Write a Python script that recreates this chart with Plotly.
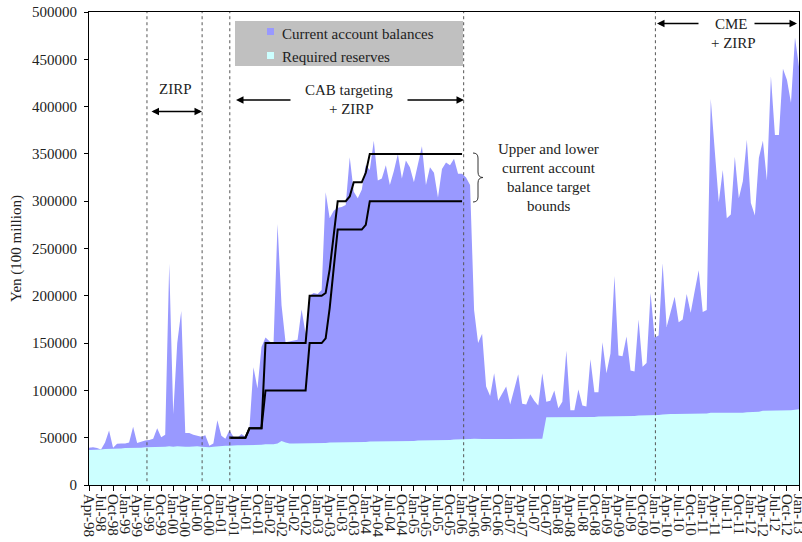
import plotly.graph_objects as go
import pandas as pd

# ---------------- data ----------------
months = pd.date_range("1998-04-01", "2013-01-01", freq="MS").strftime("%b-%y").tolist()

# Current account balances (100 million yen), monthly Apr-98 .. Jan-13
cab = [
    39500, 40000, 39000, 37500, 45000, 57500, 39500, 43500, 43800,
    44000, 45000, 61500, 44500, 46000, 47000, 47500, 49000, 60000, 50500, 53000, 234000,
    75000, 150000, 184000, 55000, 55000, 53000, 52000, 51000, 52500, 41500, 44000, 68500,
    52000, 49000, 58000, 51000, 50000, 54000, 51000, 60000, 124600, 102000, 146000, 156000,
    152000, 149000, 276000, 190000, 151000, 152000, 152500, 153500, 185500, 160000, 200000, 203000,
    202000, 206000, 309500, 282000, 290000, 293000, 294000, 296000, 346500, 310000, 303000, 312000,
    338000, 333000, 364000, 322000, 324000, 338000, 317000, 332000, 350000, 324000, 343000, 336000,
    320000, 338000, 358000, 317000, 336000, 330000, 304000, 334000, 341000, 338000, 345000, 329000,
    329000, 325000, 317000, 185000, 150000, 160000, 104000, 94000, 118000, 89000, 96000, 104000,
    85000, 102000, 117000, 86000, 85000, 96000, 89000, 84000, 118000, 88000, 89000, 100000,
    81000, 88000, 142000, 79000, 79000, 101000, 84000, 83000, 133000, 98000, 98000, 151000,
    118000, 139000, 221000, 137000, 136000, 157000, 121000, 120000, 175000, 125000, 129000, 203000,
    156000, 158000, 234500, 167000, 184000, 199000, 172000, 175000, 202000, 182000, 205000, 227000,
    183000, 185000, 408000, 352000, 299000, 333000, 282000, 286000, 347000, 303000, 321000, 365000,
    298000, 285000, 346000, 364000, 322000, 432000, 370000, 370000, 440000, 428000, 404000, 473000,
    442000,
]

# Required reserves (100 million yen)
reserves = [
    37000, 37000, 37500, 37500, 38000, 38000, 38000, 38500, 38500,
    39000, 39000, 39500, 39500, 39500, 40000, 40000, 40000, 40000, 40000, 40500, 41000,
    40500, 41000, 40500, 40500, 40500, 41000, 41000, 40500, 40000, 40000, 40500, 41000,
    41000, 41500, 41500, 42000, 42000, 42000, 42000, 42500, 42500, 42500, 42500, 43000,
    43000, 43000, 44000, 46500, 45000, 44000, 44000, 44000, 44000, 44000, 44000, 44500,
    44500, 44500, 44500, 45000, 45000, 45000, 45000, 45000, 45000, 45500, 45500, 45500,
    45500, 46000, 46000, 46000, 46000, 46000, 46000, 46500, 46500, 46500, 46500, 46500,
    46500, 47000, 47000, 47000, 47000, 47000, 47500, 47500, 47500, 47500, 48000, 48000,
    48000, 48500, 48500, 49000, 48500, 48500, 48500, 48500, 48500, 48500, 48500, 48500,
    48500, 48800, 49000, 49000, 49000, 49000, 49000, 49000, 49000, 71500, 71500, 71500,
    71500, 71500, 71500, 71500, 71500, 71500, 72000, 72000, 72000, 72000, 72500, 72500,
    72500, 73000, 73000, 73000, 73000, 73000, 73000, 73000, 73500, 73500, 73500, 73500,
    74000, 74000, 74500, 75000, 75000, 75000, 75000, 75000, 75000, 75000, 75000, 75500,
    75000, 75500, 76500, 76500, 76500, 76500, 76000, 76000, 76500, 76500, 76500, 77000,
    77000, 77000, 77500, 78500, 78500, 78500, 78500, 78500, 78500, 79000, 79000, 79500,
    80000,
]

# Current account balance target bounds, Mar-01 .. Jan-06
bound_months = months[35:94]
upper_bound = [
    50000, 50000, 50000, 50000, 50000,
    60000, 60000, 60000, 60000,
    150000, 150000, 150000, 150000, 150000, 150000, 150000, 150000, 150000, 150000, 150000,
    200000, 200000, 200000, 200000,
    203000, 228000, 264000,
    300000, 300000, 300000,
    305000,
    320000, 320000, 320000,
    330000,
    350000, 350000, 350000, 350000, 350000, 350000, 350000, 350000, 350000, 350000, 350000, 350000,
    350000, 350000, 350000, 350000, 350000, 350000, 350000, 350000, 350000, 350000, 350000, 350000,
]
lower_bound = [
    50000, 50000, 50000, 50000, 50000,
    60000, 60000, 60000, 60000,
    100000, 100000, 100000, 100000, 100000, 100000, 100000, 100000, 100000, 100000, 100000,
    150000, 150000, 150000, 150000,
    155000, 187000, 229000,
    270000, 270000, 270000, 270000, 270000, 270000, 270000,
    275000,
    300000, 300000, 300000, 300000, 300000, 300000, 300000, 300000, 300000, 300000, 300000, 300000,
    300000, 300000, 300000, 300000, 300000, 300000, 300000, 300000, 300000, 300000, 300000, 300000,
]

# policy regime boundaries (position on the month axis)
event_positions = [14.45, 28.2, 35.1, 93.4, 141.2]

y_ticks = [0, 50000, 100000, 150000, 200000, 250000, 300000, 350000, 400000, 450000, 500000]

# ---------------- layout helpers ----------------
W, H = 802, 542
L, R, T, B = 89, 3, 12, 57
PW = W - L - R
PH = H - T - B
FONT = "Liberation Serif"
TXT = "#222222"


def px(x):
    return (x - L) / PW


def py(y):
    return (H - B - y) / PH


fig = go.Figure()
fig.add_trace(go.Scatter(x=months, y=cab, mode="lines", line=dict(width=0, color="#9999ff"),
                         fill="tozeroy", fillcolor="#9999ff", name="Current account balances",
                         showlegend=False, hoverinfo="skip"))
fig.add_trace(go.Scatter(x=months, y=reserves, mode="lines", line=dict(width=0, color="#ccffff"),
                         fill="tozeroy", fillcolor="#ccffff", name="Required reserves",
                         showlegend=False, hoverinfo="skip"))
fig.add_trace(go.Scatter(x=bound_months, y=upper_bound, mode="lines",
                         line=dict(color="black", width=2), showlegend=False, hoverinfo="skip"))
fig.add_trace(go.Scatter(x=bound_months, y=lower_bound, mode="lines",
                         line=dict(color="black", width=2), showlegend=False, hoverinfo="skip"))

shapes = []
for e in event_positions:
    shapes.append(dict(type="line", xref="x", yref="y", x0=e, x1=e, y0=4000, y1=500000,
                       line=dict(color="#555555", width=1, dash="dot")))

# legend box
shapes.append(dict(type="rect", xref="paper", yref="paper", x0=px(235), x1=px(463),
                   y0=py(66), y1=py(21), fillcolor="#c0c0c0", line=dict(width=0), layer="above"))
shapes.append(dict(type="rect", xref="paper", yref="paper", x0=px(267), x1=px(274),
                   y0=py(35), y1=py(28), fillcolor="#9999ff", line=dict(width=0)))
shapes.append(dict(type="rect", xref="paper", yref="paper", x0=px(267), x1=px(274),
                   y0=py(59), y1=py(52), fillcolor="#ccffff", line=dict(width=0)))

# curly brace
pts = [(473, 153), (478, 153), (478, 158), (478, 172), (478, 177.5), (483, 177.5),
       (478, 177.5), (478, 183), (478, 197), (478, 202), (473, 202)]
P = [(px(a), py(b)) for a, b in pts]
path = ("M {0[0]},{0[1]} Q {1[0]},{1[1]} {2[0]},{2[1]} L {3[0]},{3[1]} "
        "Q {4[0]},{4[1]} {5[0]},{5[1]} Q {6[0]},{6[1]} {7[0]},{7[1]} L {8[0]},{8[1]} "
        "Q {9[0]},{9[1]} {10[0]},{10[1]}").format(*P)
shapes.append(dict(type="path", xref="paper", yref="paper", path=path,
                   line=dict(color="#333333", width=1)))

annotations = []


def text(t, x, y, anchor="center"):
    annotations.append(dict(text=t, xref="paper", yref="paper", x=px(x), y=py(y),
                            xanchor=anchor, yanchor="middle", showarrow=False,
                            font=dict(family=FONT, size=15, color=TXT)))


def arrow(hx, hy, tx, ty, both=False):
    d = dict(text="", xref="paper", yref="paper", x=px(hx), y=py(hy), ax=tx - hx, ay=ty - hy,
             showarrow=True, arrowhead=2, arrowsize=1, arrowwidth=1.5, arrowcolor="black")
    if both:
        d.update(arrowside="end+start", startarrowhead=2, startarrowsize=1)
    annotations.append(d)


text("Current account balances", 280, 34, "left")
text("Required reserves", 280, 57, "left")
text("ZIRP", 175, 89)
arrow(202, 111.5, 150, 111.5, both=True)
text("CAB targeting", 349, 90)
text("+ ZIRP", 351, 109)
arrow(236, 100, 292, 100)
arrow(464, 100, 406, 100)
text("CME", 731, 24)
text("+ ZIRP", 733, 43)
arrow(657, 23.5, 700, 23.5)
arrow(797, 23.5, 753, 23.5)
text("Upper and lower", 548.5, 149)
text("current account", 548.5, 168)
text("balance target", 548.5, 187)
text("bounds", 548.5, 206)

fig.update_layout(
    width=W, height=H,
    margin=dict(l=L, r=R, t=T, b=B, pad=0),
    paper_bgcolor="white", plot_bgcolor="white",
    font=dict(family=FONT, size=15, color=TXT),
    shapes=shapes, annotations=annotations,
    xaxis=dict(type="category", range=[0, len(months) - 1], tickmode="linear", tick0=0, dtick=3,
               tickangle=90, ticks="outside", ticklen=5, tickcolor="black",
               showline=True, linecolor="black", linewidth=1, mirror=True,
               showgrid=False, zeroline=False, automargin=False,
               tickfont=dict(family=FONT, size=15, color=TXT)),
    yaxis=dict(range=[0, 500000], tickmode="array", tickvals=y_ticks, tickformat="d",
               ticks="outside", ticklen=4, tickcolor="black", ticklabelstandoff=4,
               showline=True, linecolor="black", linewidth=1, mirror=True,
               showgrid=False, zeroline=False, automargin=False,
               tickfont=dict(family=FONT, size=15, color=TXT),
               title=dict(text="Yen (100 million)", standoff=6,
                          font=dict(family=FONT, size=15, color=TXT))),
)

fig.write_html("out.html", config={"displayModeBar": False},
               post_script="document.body.style.margin='0';document.body.style.overflow='hidden';")
